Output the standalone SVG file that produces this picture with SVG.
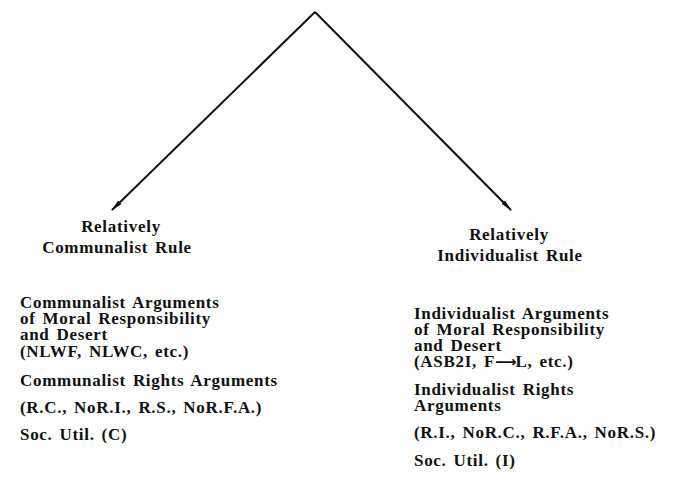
<svg xmlns="http://www.w3.org/2000/svg" width="677" height="490" viewBox="0 0 677 490">
  <style>
    .t { font-family: "Liberation Serif", "Times New Roman", "DejaVu Serif", serif; font-size: 17px; font-weight: bold; letter-spacing: 0.7px; word-spacing: 2px; fill: #111; }
    .edge { stroke: #111; stroke-width: 2; fill: none; }
  </style>
  <defs>
    <marker id="head" viewBox="0 0 12 6" refX="11" refY="3" markerWidth="12" markerHeight="6" markerUnits="userSpaceOnUse" orient="auto">
      <path d="M0,0.6 L12,3 L0,5.4 Z" fill="#111"/>
    </marker>
  </defs>
  <rect width="677" height="490" fill="#fff"/>

  <!-- connectors from the apex to both rule headings -->
  <g id="connectors">
    <line class="edge" x1="315" y1="12" x2="112" y2="210" marker-end="url(#head)"/>
    <line class="edge" x1="315" y1="12" x2="511" y2="210" marker-end="url(#head)"/>
  </g>

  <!-- left branch -->
  <g id="communalist-rule">
    <text class="t" x="121" y="232" text-anchor="middle">Relatively</text>
    <text class="t" x="117" y="253" text-anchor="middle" word-spacing="4">Communalist Rule</text>
  </g>
  <g id="communalist-arguments">
    <text class="t" x="20" y="308">Communalist Arguments</text>
    <text class="t" x="20" y="324">of Moral Responsibility</text>
    <text class="t" x="20" y="340">and Desert</text>
    <text class="t" x="20" y="357">(NLWF, NLWC, etc.)</text>
    <text class="t" x="20" y="386">Communalist Rights Arguments</text>
    <text class="t" x="20" y="413">(R.C., NoR.I., R.S., NoR.F.A.)</text>
    <text class="t" x="20" y="440">Soc. Util. (C)</text>
  </g>

  <!-- right branch -->
  <g id="individualist-rule">
    <text class="t" x="509" y="240" text-anchor="middle">Relatively</text>
    <text class="t" x="510" y="261" text-anchor="middle" word-spacing="4">Individualist Rule</text>
  </g>
  <g id="individualist-arguments">
    <text class="t" x="414" y="319">Individualist Arguments</text>
    <text class="t" x="414" y="335">of Moral Responsibility</text>
    <text class="t" x="414" y="351">and Desert</text>
    <text class="t" x="414" y="367">(ASB2I, F<tspan font-family="DejaVu Sans" font-size="15" letter-spacing="-1">⟶</tspan>L, etc.)</text>
    <text class="t" x="414" y="395">Individualist Rights</text>
    <text class="t" x="414" y="411">Arguments</text>
    <text class="t" x="414" y="438">(R.I., NoR.C., R.F.A., NoR.S.)</text>
    <text class="t" x="414" y="466">Soc. Util. (I)</text>
  </g>
</svg>
